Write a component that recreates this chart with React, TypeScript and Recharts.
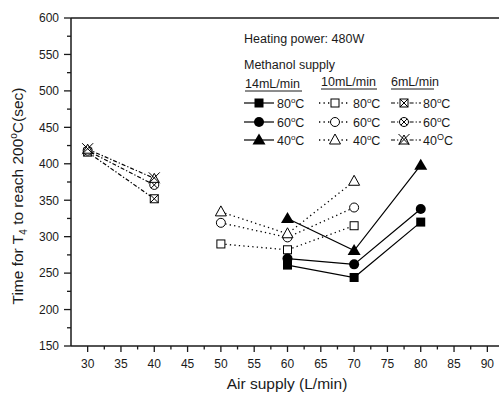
import React from "react";
import { ComposedChart, Line, ReferenceLine, XAxis, YAxis } from "recharts";

// air supply (L/min) for each methanol feed rate
const air14 = [60, 70, 80];
const air10 = [50, 60, 70];
const air6 = [30, 40];

// time for T4 to reach 200°C (sec)
const t14_80 = [261, 244, 320];
const t14_60 = [270, 262, 338];
const t14_40 = [325, 281, 398];
const t10_80 = [290, 282, 315];
const t10_60 = [319, 299, 340];
const t10_40 = [334, 304, 376];
const t6_80 = [416, 352];
const t6_60 = [418, 371];
const t6_40 = [420, 380];

const xTicks = [
  30, 32.5, 35, 37.5, 40, 42.5, 45, 47.5, 50, 52.5, 55, 57.5, 60, 62.5, 65, 67.5, 70, 72.5, 75,
  77.5, 80, 82.5, 85, 87.5, 90, 92.5,
];
const yTicks = [
  150, 175, 200, 225, 250, 275, 300, 325, 350, 375, 400, 425, 450, 475, 500, 525, 550, 575, 600,
];
const xMajor = [30, 35, 40, 45, 50, 55, 60, 65, 70, 75, 80, 85, 90];
const yMajor = [150, 200, 250, 300, 350, 400, 450, 500, 550, 600];

const FONT = "'Liberation Sans', Arial, sans-serif";
const INK = "#1a1a1a";

type Kind = "sqF" | "ciF" | "trF" | "sqO" | "ciO" | "trO" | "sqX" | "ciX" | "trX";

function Marker({ kind, cx, cy }: { kind: Kind; cx: number; cy: number }) {
  const s = { stroke: "#000", strokeWidth: 1 };
  switch (kind) {
    case "sqF":
      return <rect x={cx - 4.5} y={cy - 4.5} width={9} height={9} fill="#000" />;
    case "ciF":
      return <circle cx={cx} cy={cy} r={5} fill="#000" />;
    case "trF":
      return (
        <polygon
          points={`${cx},${cy - 6.5} ${cx - 6.5},${cy + 4.5} ${cx + 6.5},${cy + 4.5}`}
          fill="#000"
        />
      );
    case "sqO":
      return <rect x={cx - 4} y={cy - 4} width={8} height={8} fill="#fff" {...s} />;
    case "ciO":
      return <circle cx={cx} cy={cy} r={4.5} fill="#fff" {...s} />;
    case "trO":
      return (
        <polygon
          points={`${cx},${cy - 6} ${cx - 5.5},${cy + 4} ${cx + 5.5},${cy + 4}`}
          fill="#fff"
          {...s}
        />
      );
    case "sqX":
      return (
        <g>
          <rect x={cx - 4} y={cy - 4} width={8} height={8} fill="#fff" {...s} />
          <path d={`M${cx - 4},${cy - 4}L${cx + 4},${cy + 4}M${cx + 4},${cy - 4}L${cx - 4},${cy + 4}`} {...s} />
        </g>
      );
    case "ciX":
      return (
        <g>
          <circle cx={cx} cy={cy} r={4.5} fill="#fff" {...s} />
          <path d={`M${cx - 3.2},${cy - 3.2}L${cx + 3.2},${cy + 3.2}M${cx + 3.2},${cy - 3.2}L${cx - 3.2},${cy + 3.2}`} {...s} />
        </g>
      );
    case "trX":
      return (
        <g>
          <polygon
            points={`${cx},${cy - 5} ${cx - 5},${cy + 4} ${cx + 5},${cy + 4}`}
            fill="#fff"
            {...s}
          />
          <path d={`M${cx - 5.5},${cy - 6}L${cx + 5.5},${cy + 5}M${cx + 5.5},${cy - 6}L${cx - 5.5},${cy + 5}`} {...s} />
        </g>
      );
  }
}

const toPoints = (xs: number[], ys: number[]) => xs.map((x, i) => ({ x, y: ys[i] }));

const SOLID = "";
const DOTTED = "1.3 3.2";
const DASHDOT = "4 2 1.3 2";

const series: { key: string; data: { x: number; y: number }[]; kind: Kind; dash: string }[] = [
  { key: "6-80", data: toPoints(air6, t6_80), kind: "sqX", dash: DASHDOT },
  { key: "6-60", data: toPoints(air6, t6_60), kind: "ciX", dash: DASHDOT },
  { key: "6-40", data: toPoints(air6, t6_40), kind: "trX", dash: DASHDOT },
  { key: "10-80", data: toPoints(air10, t10_80), kind: "sqO", dash: DOTTED },
  { key: "10-60", data: toPoints(air10, t10_60), kind: "ciO", dash: DOTTED },
  { key: "10-40", data: toPoints(air10, t10_40), kind: "trO", dash: DOTTED },
  { key: "14-80", data: toPoints(air14, t14_80), kind: "sqF", dash: SOLID },
  { key: "14-60", data: toPoints(air14, t14_60), kind: "ciF", dash: SOLID },
  { key: "14-40", data: toPoints(air14, t14_40), kind: "trF", dash: SOLID },
];

function YTick(props: any) {
  const { x, y, payload } = props;
  const major = yMajor.includes(payload.value);
  return (
    <g>
      <line x1={x - (major ? 7 : 4)} x2={x} y1={y} y2={y} stroke={INK} strokeWidth={1.3} />
      {major && (
        <text x={x - 12} y={y} dy="0.36em" textAnchor="end" fontSize={12} fontFamily={FONT} fill={INK}>
          {payload.value}
        </text>
      )}
    </g>
  );
}

function XTick(props: any) {
  const { x, y, payload } = props;
  const major = xMajor.includes(payload.value);
  return (
    <g>
      <line x1={x} x2={x} y1={y} y2={y + (major ? 6 : 3.5)} stroke={INK} strokeWidth={1.3} />
      {major && (
        <text x={x} y={y + 22} textAnchor="middle" fontSize={12} fontFamily={FONT} fill={INK}>
          {payload.value}
        </text>
      )}
    </g>
  );
}

function Deg({ label, big }: { label: string; big?: boolean }) {
  return (
    <>
      {label}
      <tspan fontSize={big ? 9 : 8} dy={-5}>
        {big ? "O" : "o"}
      </tspan>
      <tspan dy={5}>C</tspan>
    </>
  );
}

const legendRows = [
  { y: 103, temp: "80", kinds: ["sqF", "sqO", "sqX"] as Kind[] },
  { y: 122, temp: "60", kinds: ["ciF", "ciO", "ciX"] as Kind[] },
  { y: 140, temp: "40", kinds: ["trF", "trO", "trX"] as Kind[] },
];
const legendCols = [
  { x0: 244, x1: 274, mx: 259, tx: 277, dash: SOLID, head: "14mL/min", hx: 245, hy: 88, w: 57 },
  { x0: 319, x1: 349, mx: 335, tx: 353, dash: DOTTED, head: "10mL/min", hx: 321, hy: 86, w: 56 },
  { x0: 391, x1: 421, mx: 404, tx: 423, dash: DASHDOT, head: "6mL/min", hx: 391, hy: 86, w: 43 },
];

function Overlay() {
  return (
    <svg
      width={499}
      height={394}
      style={{ position: "absolute", left: 0, top: 0, pointerEvents: "none" }}
      fontFamily={FONT}
      fill={INK}
    >
      <text x={244} y={43} fontSize={12.5}>
        Heating power: 480W
      </text>
      <text x={244} y={69} fontSize={12.5}>
        Methanol supply
      </text>
      {legendCols.map((c) => (
        <g key={c.head}>
          <text x={c.hx} y={c.hy} fontSize={12.5}>
            {c.head}
          </text>
          <line x1={c.hx} x2={c.hx + c.w} y1={c.hy + 3} y2={c.hy + 3} stroke={INK} strokeWidth={1} />
        </g>
      ))}
      {legendRows.map((r) =>
        legendCols.map((c, ci) => (
          <g key={r.temp + c.head}>
            <line
              x1={c.x0}
              x2={c.x1}
              y1={r.y}
              y2={r.y}
              stroke="#000"
              strokeWidth={c.dash === DOTTED ? 1.3 : 1.2}
              strokeDasharray={c.dash || undefined}
            />
            <Marker kind={r.kinds[ci]} cx={c.mx} cy={r.y} />
            <text x={c.tx} y={r.y + 5} fontSize={12.5}>
              <Deg label={r.temp} big={ci === 2 && r.temp === "40"} />
            </text>
          </g>
        ))
      )}
      <text x={287} y={389} fontSize={15.5} textAnchor="middle">
        Air supply (L/min)
      </text>
      <text x={23} y={196} fontSize={15.5} textAnchor="middle" transform="rotate(-90 23 196)">
        Time for T<tspan fontSize={10} dy={4}>4</tspan>
        <tspan dy={-4}> to reach 200</tspan>
        <tspan fontSize={10} dy={-6}>o</tspan>
        <tspan dy={6}>C(sec)</tspan>
      </text>
    </svg>
  );
}

export default function App() {
  return (
    <div
      style={{
        position: "fixed",
        left: 0,
        top: 0,
        width: 499,
        height: 394,
        overflow: "hidden",
        background: "#fff",
      }}
    >
      <ComposedChart width={510} height={394} margin={{ top: 18, right: 6, bottom: 0, left: 8 }}>
        <XAxis
          type="number"
          dataKey="x"
          domain={[27.5, 92.5]}
          ticks={xTicks}
          interval={0}
          allowDataOverflow
          height={48}
          tickSize={0}
          tickMargin={0}
          tickLine={false}
          tick={<XTick />}
          axisLine={{ stroke: INK, strokeWidth: 1.5 }}
        />
        <YAxis
          type="number"
          domain={[150, 600]}
          ticks={yTicks}
          interval={0}
          allowDataOverflow
          width={63}
          tickSize={0}
          tickMargin={0}
          tickLine={false}
          tick={<YTick />}
          axisLine={{ stroke: INK, strokeWidth: 1.5 }}
        />
        <ReferenceLine y={600} stroke={INK} strokeWidth={1.5} />
        {series.map((s) => (
          <Line
            key={s.key}
            data={s.data}
            dataKey="y"
            type="linear"
            stroke="#000"
            strokeWidth={s.dash === DOTTED ? 1.3 : 1.2}
            strokeDasharray={s.dash || undefined}
            isAnimationActive={false}
            activeDot={false}
            dot={(p: any) => <Marker key={`${s.key}-${p.index}`} kind={s.kind} cx={p.cx} cy={p.cy} />}
          />
        ))}
      </ComposedChart>
      <Overlay />
    </div>
  );
}
